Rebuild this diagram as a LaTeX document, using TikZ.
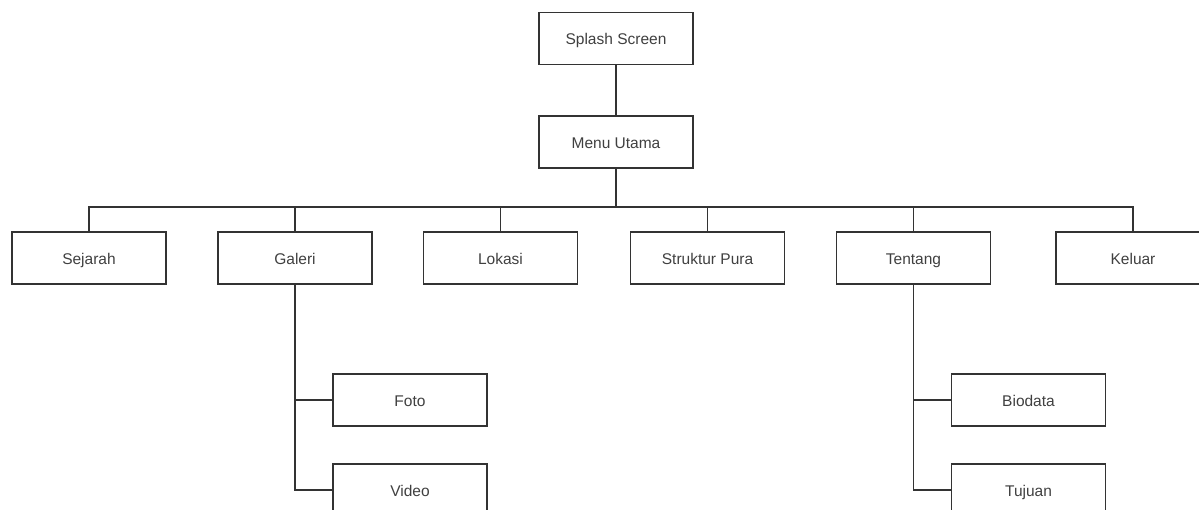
\documentclass[tikz,border=0pt]{standalone}
\usepackage{fontspec}
\setmainfont{Liberation Sans}
\definecolor{linec}{HTML}{333333}
\definecolor{textc}{HTML}{404040}
\begin{document}
\begin{tikzpicture}[x=1pt,y=-1pt,
  box/.style={draw=linec, line width=1.4pt, fill=white, minimum width=154pt, minimum height=52pt, inner sep=0pt, text height=13pt, text depth=0pt, text=textc, font=\fontsize{15.5}{17}\selectfont},
  conn/.style={draw=linec, line width=1.4pt}]
\useasboundingbox (0,0) rectangle (1199,510);
\clip (0,0) rectangle (1199,510);
\node[box] (splash) at (616,38.5) {Splash Screen};
\node[box] (menu) at (616,142) {Menu Utama};
\node[box] (sejarah) at (89,258) {Sejarah};
\node[box] (galeri) at (295,258) {Galeri};
\node[box] (lokasi) at (500.5,258) {Lokasi};
\node[box] (struktur) at (707.5,258) {Struktur Pura};
\node[box] (tentang) at (913.5,258) {Tentang};
\node[box] (keluar) at (1133,258) {Keluar};
\node[box] (foto) at (410,400) {Foto};
\node[box] (video) at (410,490) {Video};
\node[box] (biodata) at (1028.5,400) {Biodata};
\node[box] (tujuan) at (1028.5,490) {Tujuan};
\coordinate (bus) at (616,207);
\draw[conn] (splash) -- (menu);
\draw[conn] (menu.south) -- (bus);
\foreach \c in {sejarah,galeri,lokasi,struktur,tentang,keluar}
  \draw[conn] (bus) -| (\c.north);
\draw[conn] (galeri.south) |- (foto.west);
\draw[conn] (galeri.south) |- (video.west);
\draw[conn] (tentang.south) |- (biodata.west);
\draw[conn] (tentang.south) |- (tujuan.west);
\end{tikzpicture}
\end{document}
